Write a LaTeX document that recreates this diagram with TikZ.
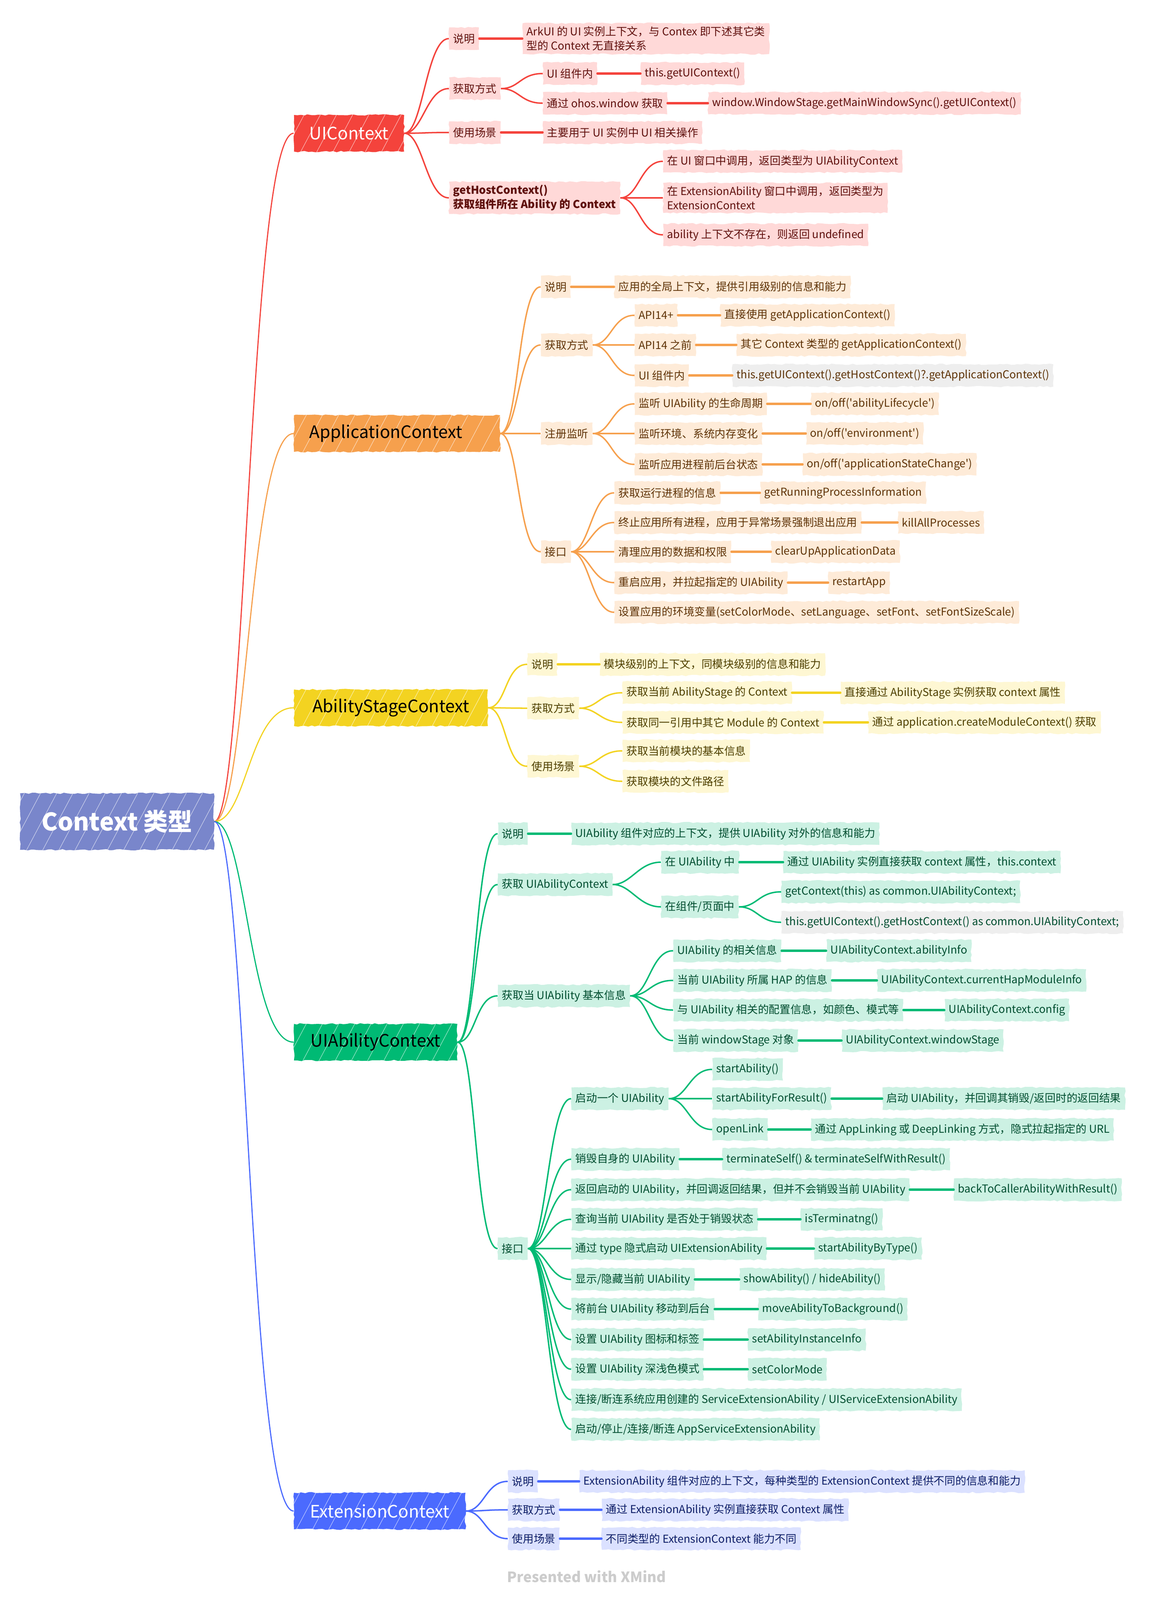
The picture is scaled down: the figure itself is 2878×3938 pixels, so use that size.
\documentclass[tikz,border=0pt]{standalone}
\usepackage{fontspec}
\newfontfamily\mapfont{Noto Sans CJK SC}
\usetikzlibrary{decorations.pathmorphing, patterns.meta}

\definecolor{rootFill}{HTML}{7986CB}
\definecolor{uiMain}{HTML}{F4433C}
\definecolor{uiLight}{HTML}{FFD9D8}
\definecolor{uiText}{HTML}{5E0F0C}
\definecolor{appMain}{HTML}{F6A04D}
\definecolor{appLight}{HTML}{FEEBD8}
\definecolor{appText}{HTML}{5E3307}
\definecolor{stageMain}{HTML}{F3D321}
\definecolor{stageLight}{HTML}{FEF7D3}
\definecolor{stageText}{HTML}{4D3F00}
\definecolor{uiaMain}{HTML}{00BA74}
\definecolor{uiaLight}{HTML}{CCF1E3}
\definecolor{uiaText}{HTML}{004D2F}
\definecolor{extMain}{HTML}{4B6AFE}
\definecolor{extLight}{HTML}{DBE1FF}
\definecolor{extText}{HTML}{0D1D66}
\definecolor{grayLight}{HTML}{EEEEEE}
\definecolor{markGray}{HTML}{CCCCCC}

\tikzset{
  rough/.style={decorate, decoration={random steps, segment length=2.5pt, amplitude=0.5pt}},
  streaks/.style={postaction={pattern={Lines[angle=62, distance=10pt, line width=0.3pt]},
    pattern color=white!70!#1}},
  rootbox/.style={rough, streaks=rootFill, fill=rootFill, text=white, minimum width=4.77cm, minimum height=1.39cm,
    font=\mapfont\bfseries\fontsize{17}{20}\selectfont},
  mainbox/.style 2 args={rough, streaks=#1, anchor=west, fill=#1, text=#2, minimum height=0.9cm, inner xsep=0.38cm,
    inner ysep=0pt, font=\mapfont\fontsize{12}{14}\selectfont},
  subbox/.style 2 args={rough, anchor=west, fill=#1, text=#2, minimum height=0.55cm, inner xsep=0.1cm,
    inner ysep=0.08cm, align=left, font=\mapfont\fontsize{7.6}{10}\selectfont},
  trunk/.style={line width=0.8pt, to path={.. controls +(80,0) and +(-110,0) .. (\tikztotarget)}},
  curve/.style={line width=1pt, to path={.. controls +(45,0) and +(-55,0) .. (\tikztotarget)}},
  leaf/.style={line width=1.5pt, line cap=round}
}

\begin{document}
\begin{tikzpicture}[x=0.01cm, y=-0.01cm]
  \useasboundingbox (0,0) rectangle (2878,3938);
  \node[rootbox] (r) at (288,2022) {Context 类型};

  % UIContext
  \node[mainbox={uiMain}{white}] (ui) at (723,328) {UIContext};
  \begin{scope}[every node/.style={subbox={uiLight}{uiText}}]
    \node (ui1) at (1105,95) {说明};
    \node (ui1a) at (1286,95) {ArkUI 的 UI 实例上下文，与 Contex 即下述其它类\\型的 Context 无直接关系};
    \node (ui2) at (1105,218) {获取方式};
    \node (ui2a) at (1336,181) {UI 组件内};
    \node (ui2ax) at (1577,181) {this.getUIContext()};
    \node (ui2b) at (1336,254) {通过 ohos.window 获取};
    \node (ui2bx) at (1743,254) {window.WindowStage.getMainWindowSync().getUIContext()};
    \node (ui3) at (1105,326) {使用场景};
    \node (ui3a) at (1336,326) {主要用于 UI 实例中 UI 相关操作};
    \node[font=\mapfont\bfseries\fontsize{7.6}{10}\selectfont] (ui4) at (1105,487) {getHostContext()\\获取组件所在 Ability 的 Context};
    \node (ui4a) at (1632,397) {在 UI 窗口中调用，返回类型为 UIAbilityContext};
    \node (ui4b) at (1632,487) {在 ExtensionAbility 窗口中调用，返回类型为\\ExtensionContext};
    \node (ui4c) at (1632,578) {ability 上下文不存在，则返回 undefined};
  \end{scope}
  \foreach \a/\b in {ui/ui1,ui/ui2,ui/ui3,ui/ui4,ui2/ui2a,ui2/ui2b,ui4/ui4a,ui4/ui4b,ui4/ui4c}
    \draw[curve, uiMain] (\a.east) to (\b.west);
  \foreach \a/\b in {ui1/ui1a,ui2a/ui2ax,ui2b/ui2bx,ui3/ui3a}
    \draw[leaf, uiMain] (\a.east) -- (\b.west);

  % ApplicationContext
  \node[mainbox={appMain}{black}, text width=4.31cm, align=left] (app) at (723,1067) {ApplicationContext};
  \begin{scope}[every node/.style={subbox={appLight}{appText}}]
    \node (app1) at (1331,706) {说明};
    \node (app1a) at (1512,706) {应用的全局上下文，提供引用级别的信息和能力};
    \node (app2) at (1331,849) {获取方式};
    \node (app2a) at (1562,776) {API14+};
    \node (app2ax) at (1773,776) {直接使用 getApplicationContext()};
    \node (app2b) at (1562,849) {API14 之前};
    \node (app2bx) at (1813,849) {其它 Context 类型的 getApplicationContext()};
    \node (app2c) at (1562,924) {UI 组件内};
    \node[fill=grayLight] (app2cx) at (1803,924) {this.getUIContext().getHostContext()?.getApplicationContext()};
    \node (app3) at (1331,1067) {注册监听};
    \node (app3a) at (1562,994) {监听 UIAbility 的生命周期};
    \node (app3ax) at (1996,994) {on/off('abilityLifecycle')};
    \node (app3b) at (1562,1067) {监听环境、系统内存变化};
    \node (app3bx) at (1984,1067) {on/off('environment')};
    \node (app3c) at (1562,1143) {监听应用进程前后台状态};
    \node (app3cx) at (1976,1143) {on/off('applicationStateChange')};
    \node (app4) at (1331,1358) {接口};
    \node (app4a) at (1512,1213) {获取运行进程的信息};
    \node (app4ax) at (1871,1213) {getRunningProcessInformation};
    \node (app4b) at (1512,1286) {终止应用所有进程，应用于异常场景强制退出应用};
    \node (app4bx) at (2210,1286) {killAllProcesses};
    \node (app4c) at (1512,1358) {清理应用的数据和权限};
    \node (app4cx) at (1898,1358) {clearUpApplicationData};
    \node (app4d) at (1512,1434) {重启应用，并拉起指定的 UIAbility};
    \node (app4dx) at (2039,1434) {restartApp};
    \node (app4e) at (1512,1507) {设置应用的环境变量(setColorMode、setLanguage、setFont、setFontSizeScale)};
  \end{scope}
  \foreach \a/\b in {app/app1,app/app2,app/app3,app/app4,app2/app2a,app2/app2b,app2/app2c,
      app3/app3a,app3/app3b,app3/app3c,app4/app4a,app4/app4b,app4/app4c,app4/app4d,app4/app4e}
    \draw[curve, appMain] (\a.east) to (\b.west);
  \foreach \a/\b in {app1/app1a,app2a/app2ax,app2b/app2bx,app2c/app2cx,app3a/app3ax,app3b/app3bx,
      app3c/app3cx,app4a/app4ax,app4b/app4bx,app4c/app4cx,app4d/app4dx}
    \draw[leaf, appMain] (\a.east) -- (\b.west);

  % AbilityStageContext
  \node[mainbox={stageMain}{black}, minimum width=4.77cm] (stage) at (723,1742) {AbilityStageContext};
  \begin{scope}[every node/.style={subbox={stageLight}{stageText}}]
    \node (stage1) at (1298,1635) {说明};
    \node (stage1a) at (1476,1635) {模块级别的上下文，同模块级别的信息和能力};
    \node (stage2) at (1298,1743) {获取方式};
    \node (stage2a) at (1532,1705) {获取当前 AbilityStage 的 Context};
    \node (stage2ax) at (2069,1705) {直接通过 AbilityStage 实例获取 context 属性};
    \node (stage2b) at (1532,1778) {获取同一引用中其它 Module 的 Context};
    \node (stage2bx) at (2137,1778) {通过 application.createModuleContext() 获取};
    \node (stage3) at (1298,1886) {使用场景};
    \node (stage3a) at (1532,1848) {获取当前模块的基本信息};
    \node (stage3b) at (1532,1923) {获取模块的文件路径};
  \end{scope}
  \foreach \a/\b in {stage/stage1,stage/stage2,stage/stage3,stage2/stage2a,stage2/stage2b,
      stage3/stage3a,stage3/stage3b}
    \draw[curve, stageMain] (\a.east) to (\b.west);
  \foreach \a/\b in {stage1/stage1a,stage2a/stage2ax,stage2b/stage2bx}
    \draw[leaf, stageMain] (\a.east) -- (\b.west);

  % UIAbilityContext
  \node[mainbox={uiaMain}{black}, minimum width=4.02cm] (uia) at (723,2565) {UIAbilityContext};
  \begin{scope}[every node/.style={subbox={uiaLight}{uiaText}}]
    \node (uia1) at (1225,2052) {说明};
    \node (uia1a) at (1406,2052) {UIAbility 组件对应的上下文，提供 UIAbility 对外的信息和能力};
    \node (uia2) at (1225,2177) {获取 UIAbilityContext};
    \node (uia2a) at (1627,2122) {在 UIAbility 中};
    \node (uia2ax) at (1928,2122) {通过 UIAbility 实例直接获取 context 属性，this.context};
    \node (uia2b) at (1627,2232) {在组件/页面中};
    \node (uia2b1) at (1923,2195) {getContext(this) as common.UIAbilityContext;};
    \node[fill=grayLight] (uia2b2) at (1923,2270) {this.getUIContext().getHostContext() as common.UIAbilityContext;};
    \node (uia3) at (1225,2451) {获取当 UIAbility 基本信息};
    \node (uia3a) at (1657,2340) {UIAbility 的相关信息};
    \node (uia3ax) at (2034,2340) {UIAbilityContext.abilityInfo};
    \node (uia3b) at (1657,2413) {当前 UIAbility 所属 HAP 的信息};
    \node (uia3bx) at (2159,2413) {UIAbilityContext.currentHapModuleInfo};
    \node (uia3c) at (1657,2486) {与 UIAbility 相关的配置信息，如颜色、模式等};
    \node (uia3cx) at (2325,2486) {UIAbilityContext.config};
    \node (uia3d) at (1657,2561) {当前 windowStage 对象};
    \node (uia3dx) at (2072,2561) {UIAbilityContext.windowStage};
    \node (uia4) at (1225,3073) {接口};
    \node (uia4a) at (1406,2704) {启动一个 UIAbility};
    \node (uia4a1) at (1753,2632) {startAbility()};
    \node (uia4a2) at (1753,2704) {startAbilityForResult()};
    \node (uia4a2x) at (2172,2704) {启动 UIAbility，并回调其销毁/返回时的返回结果};
    \node (uia4a3) at (1753,2780) {openLink};
    \node (uia4a3x) at (1996,2780) {通过 AppLinking 或 DeepLinking 方式，隐式拉起指定的 URL};
    \node (uia4b) at (1406,2853) {销毁自身的 UIAbility};
    \node (uia4bx) at (1778,2853) {terminateSelf() \& terminateSelfWithResult()};
    \node (uia4c) at (1406,2928) {返回启动的 UIAbility，并回调返回结果，但并不会销毁当前 UIAbility};
    \node (uia4cx) at (2348,2928) {backToCallerAbilityWithResult()};
    \node (uia4d) at (1406,3001) {查询当前 UIAbility 是否处于销毁状态};
    \node (uia4dx) at (1971,3001) {isTerminatng()};
    \node (uia4e) at (1406,3073) {通过 type 隐式启动 UIExtensionAbility};
    \node (uia4ex) at (2004,3073) {startAbilityByType()};
    \node (uia4f) at (1406,3149) {显示/隐藏当前 UIAbility};
    \node (uia4fx) at (1820,3149) {showAbility() / hideAbility()};
    \node (uia4g) at (1406,3222) {将前台 UIAbility 移动到后台};
    \node (uia4gx) at (1866,3222) {moveAbilityToBackground()};
    \node (uia4h) at (1406,3297) {设置 UIAbility 图标和标签};
    \node (uia4hx) at (1841,3297) {setAbilityInstanceInfo};
    \node (uia4i) at (1406,3370) {设置 UIAbility 深浅色模式};
    \node (uia4ix) at (1841,3370) {setColorMode};
    \node (uia4j) at (1406,3445) {连接/断连系统应用创建的 ServiceExtensionAbility / UIServiceExtensionAbility};
    \node (uia4k) at (1406,3518) {启动/停止/连接/断连 AppServiceExtensionAbility};
  \end{scope}
  \foreach \a/\b in {uia/uia1,uia/uia2,uia/uia3,uia/uia4,uia2/uia2a,uia2/uia2b,uia2b/uia2b1,uia2b/uia2b2,
      uia3/uia3a,uia3/uia3b,uia3/uia3c,uia3/uia3d,uia4/uia4a,uia4/uia4b,uia4/uia4c,uia4/uia4d,uia4/uia4e,
      uia4/uia4f,uia4/uia4g,uia4/uia4h,uia4/uia4i,uia4/uia4j,uia4/uia4k,uia4a/uia4a1,uia4a/uia4a2,uia4a/uia4a3}
    \draw[curve, uiaMain] (\a.east) to (\b.west);
  \foreach \a/\b in {uia1/uia1a,uia2a/uia2ax,uia3a/uia3ax,uia3b/uia3bx,uia3c/uia3cx,uia3d/uia3dx,
      uia4a2/uia4a2x,uia4a3/uia4a3x,uia4b/uia4bx,uia4c/uia4cx,uia4d/uia4dx,uia4e/uia4ex,uia4f/uia4fx,
      uia4g/uia4gx,uia4h/uia4hx,uia4i/uia4ix}
    \draw[leaf, uiaMain] (\a.east) -- (\b.west);

  % ExtensionContext
  \node[mainbox={extMain}{white}, minimum width=4.22cm] (ext) at (723,3719) {ExtensionContext};
  \begin{scope}[every node/.style={subbox={extLight}{extText}}]
    \node (ext1) at (1250,3646) {说明};
    \node (ext1a) at (1426,3646) {ExtensionAbility 组件对应的上下文，每种类型的 ExtensionContext 提供不同的信息和能力};
    \node (ext2) at (1250,3716) {获取方式};
    \node (ext2a) at (1481,3716) {通过 ExtensionAbility 实例直接获取 Context 属性};
    \node (ext3) at (1250,3787) {使用场景};
    \node (ext3a) at (1481,3787) {不同类型的 ExtensionContext 能力不同};
  \end{scope}
  \foreach \a/\b in {ext/ext1,ext/ext2,ext/ext3}
    \draw[curve, extMain] (\a.east) to (\b.west);
  \foreach \a/\b in {ext1/ext1a,ext2/ext2a,ext3/ext3a}
    \draw[leaf, extMain] (\a.east) -- (\b.west);

  % trunks from the root
  \draw[trunk, uiMain] (r.east) to (ui.west);
  \draw[trunk, appMain] (r.east) to (app.west);
  \draw[trunk, stageMain] (r.east) to (stage.west);
  \draw[trunk, uiaMain] (r.east) to (uia.west);
  \draw[trunk, extMain] (r.east) to (ext.west);

  \node[font=\mapfont\bfseries\fontsize{10}{12}\selectfont, text=markGray] (mark) at (1444,3880) {Presented with XMind};
\end{tikzpicture}
\end{document}
